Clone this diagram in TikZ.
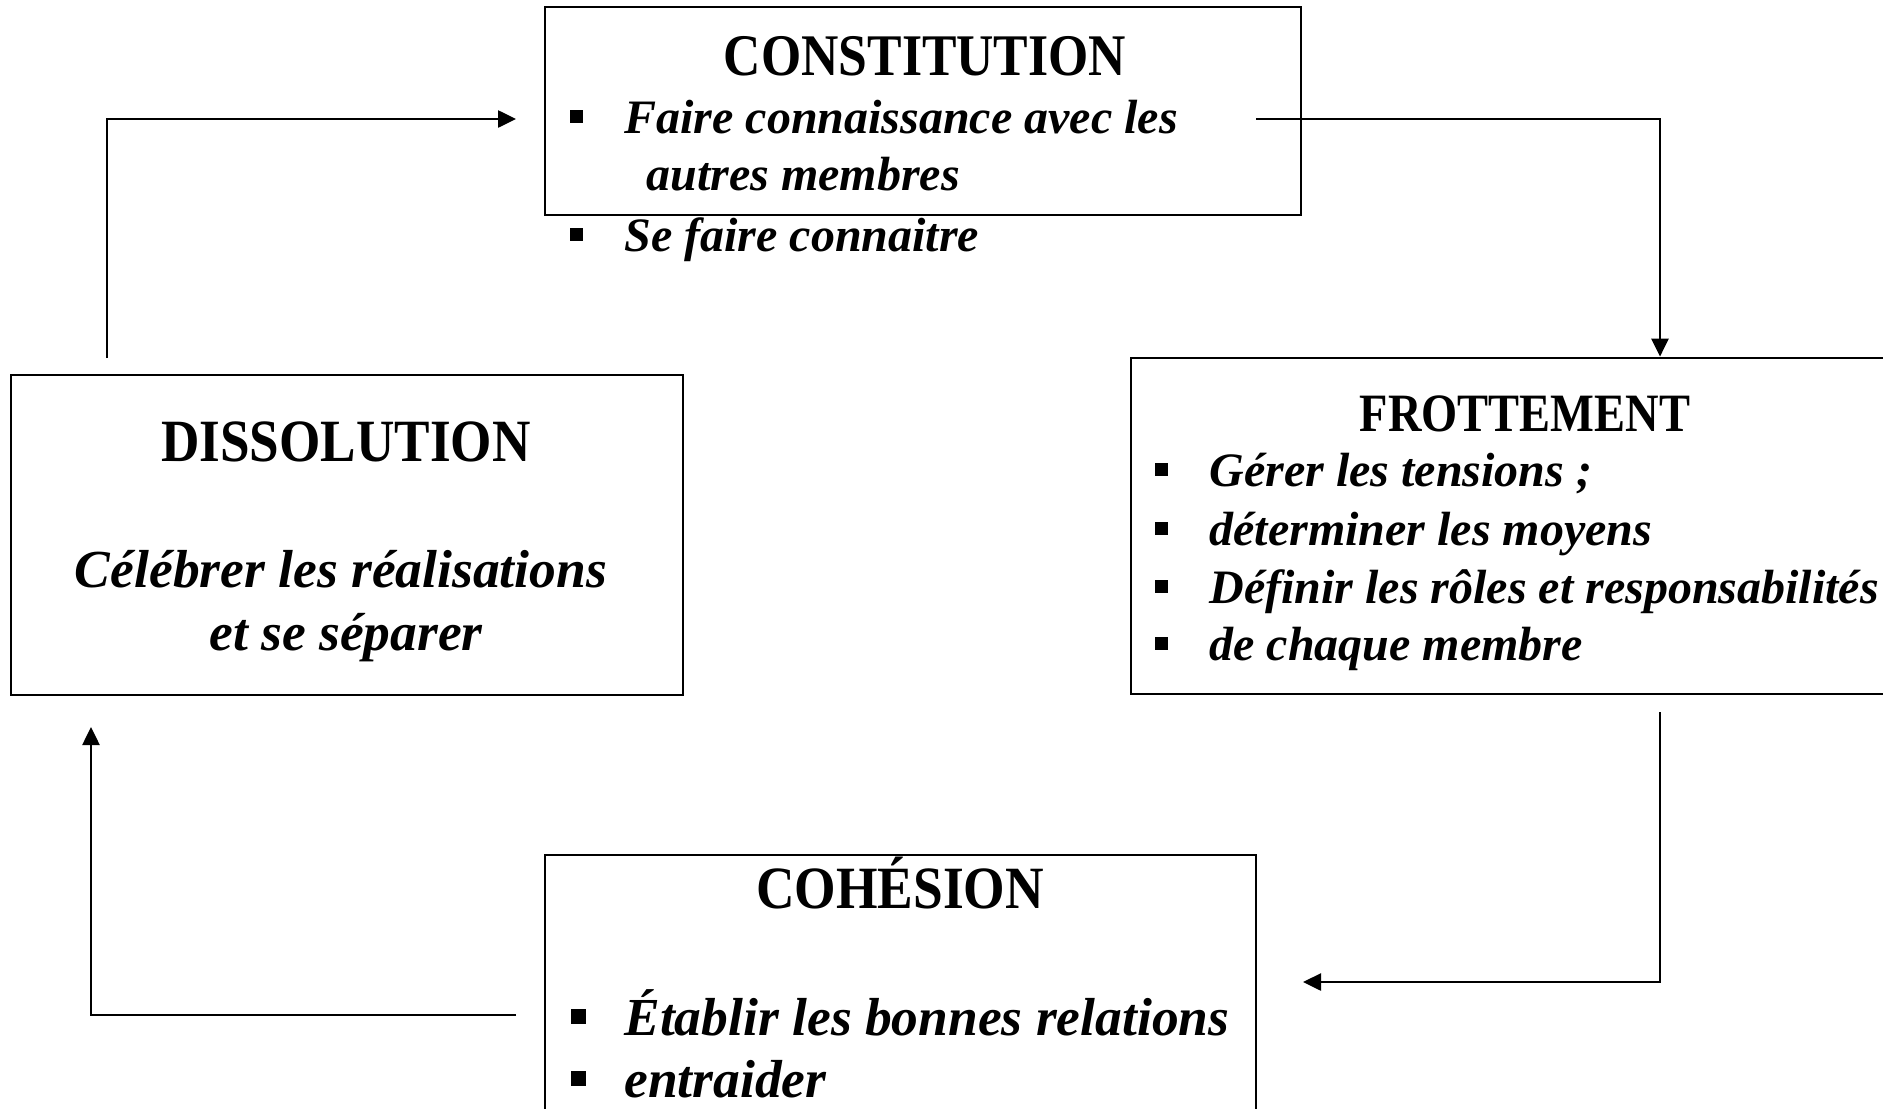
\documentclass[tikz,border=0pt]{standalone}
\usepackage{graphicx}
\usepackage{fontspec}
\setmainfont{Liberation Serif}
\usetikzlibrary{arrows.meta}
% narrowed bold heading
\newcommand{\headtxt}[2]{\scalebox{#1}[1]{#2}}
\begin{document}
\begin{tikzpicture}[x=0.5pt,y=-0.5pt,
  box/.style={draw, line width=1.4pt, inner sep=0pt, minimum width=#1},
  ttl/.style={anchor=base, inner sep=0pt, font=\fontsize{30}{36}\selectfont\bfseries},
  itm/.style={anchor=base west, inner sep=0pt, font=\fontsize{24}{29}\selectfont\bfseries\itshape},
  itmb/.style={anchor=base west, inner sep=0pt, font=\fontsize{26.75}{32}\selectfont\bfseries\itshape},
  ctr/.style={anchor=base, inner sep=0pt, font=\fontsize{26.75}{32}\selectfont\bfseries\itshape},
  bsq/.style={fill, inner sep=0pt, minimum size=6.5pt},
  bsqb/.style={fill, inner sep=0pt, minimum size=7.5pt},
  arr/.style={line width=1.3pt, -{Triangle[length=9pt,width=8.5pt]}}]
\useasboundingbox (0,0) rectangle (1883,1108);

% boxes
\node[box=378pt, minimum height=104pt] (constit) at (923,111) {};
\node[box=384.5pt, minimum height=168pt] (frott) at (1515.5,526) {};
\node[box=336pt, minimum height=160pt] (dissol) at (347,535) {};
\node[box=355.5pt, minimum height=137.5pt] (cohes) at (900.5,992.5) {};

% CONSTITUTION
\node[ttl, font=\fontsize{29.5}{35}\selectfont\bfseries] (t1) at (925,75) {\headtxt{0.876}{CONSTITUTION}};
\node[bsq] (b11) at (576,116) {};
\node[itm] (i11) at (624,133) {Faire connaissance avec les};
\node[itm] (i12) at (646,190) {autres membres};
\node[bsq] (b13) at (576,234) {};
\node[itm] (i13) at (624,251) {Se faire connaitre};

% FROTTEMENT
\node[ttl, font=\fontsize{27}{32}\selectfont\bfseries] (t2) at (1525,431) {\headtxt{0.86}{FROTTEMENT}};
\node[bsq] (b21) at (1161,469) {};
\node[itm] (i21) at (1209,486) {Gérer les tensions ;};
\node[bsq] (b22) at (1161,528) {};
\node[itm] (i22) at (1209,545) {déterminer les moyens};
\node[bsq] (b23) at (1161,586) {};
\node[itm] (i23) at (1209,603) {Définir les rôles et responsabilités};
\node[bsq] (b24) at (1161,643) {};
\node[itm] (i24) at (1209,660) {de chaque membre};

% DISSOLUTION
\node[ttl] (t3) at (346,461) {\headtxt{0.886}{DISSOLUTION}};
\node[ctr] (c31) at (341,587) {Célébrer les réalisations};
\node[ctr] (c32) at (346,650) {et se séparer};

% COHÉSION
\node[ttl] (t4) at (900,908) {\headtxt{0.89}{COHÉSION}};
\node[bsqb] (b41) at (578,1016) {};
\node[itmb] (i41) at (624,1035) {Établir les bonnes relations};
\node[bsqb] (b42) at (578,1078) {};
\node[itmb] (i42) at (624,1097) {entraider};

% cycle connectors
\coordinate (s1) at (1256,119);
\coordinate (k1) at (1660,119);
\draw[arr] (s1) -- (k1) -- (k1 |- frott.north);

\coordinate (s2) at (1660,712);
\coordinate (k2) at (1660,982);
\coordinate (e2) at (1303,982);
\draw[arr] (s2) -- (k2) -- (e2);

\coordinate (s3) at (516,1015);
\coordinate (k3) at (91,1015);
\coordinate (e3) at (91,727);
\draw[arr] (s3) -- (k3) -- (e3);

\coordinate (s4) at (107,358);
\coordinate (k4) at (107,119);
\coordinate (e4) at (516,119);
\draw[arr] (s4) -- (k4) -- (e4);
\end{tikzpicture}
\end{document}
